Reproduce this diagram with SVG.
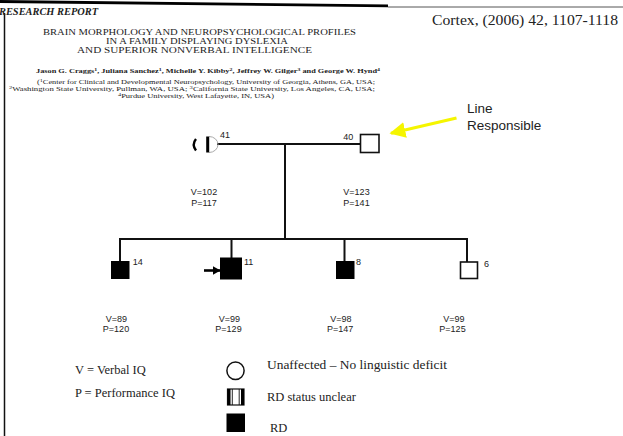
<svg xmlns="http://www.w3.org/2000/svg" width="623" height="436" viewBox="0 0 623 436">
  <style>
    .serif { font-family: "Liberation Serif", "Times New Roman", serif; fill: #222; }
    .sans { font-family: "Liberation Sans", Arial, sans-serif; fill: #222; }
    .title { font-size: 8.6px; }
    .num { font-size: 9px; }
    .iq { font-size: 9px; text-anchor: middle; }
    .legend { font-size: 12.5px; }
    .link { stroke: #111; stroke-width: 2; fill: none; }
    .open { fill: #fff; stroke: #111; stroke-width: 1.6; }
    .filled { fill: #000; stroke: #000; stroke-width: 1; }
    .sup { font-size: 4.5px; }
  </style>
  <defs>
    <marker id="yellowHead" markerWidth="5" markerHeight="5" refX="4.5" refY="2.5" orient="auto" markerUnits="strokeWidth">
      <path d="M0,0 L5,2.5 L0,5 Z" fill="#f5f500"/>
    </marker>
    <marker id="blackHead" markerWidth="3" markerHeight="3.4" refX="2.8" refY="1.7" orient="auto" markerUnits="strokeWidth">
      <path d="M0,0 L3,1.7 L0,3.4 Z" fill="#000"/>
    </marker>
  </defs>

  <rect width="623" height="436" fill="#fff"/>

  <!-- page header -->
  <g id="header">
    <path d="M0,0 L388,4.5 L388,7.3 L0,3 Z" fill="#000"/>
    <line x1="388" y1="7" x2="623" y2="7" stroke="#555" stroke-width="1"/>
    <line x1="4.5" y1="13" x2="4.5" y2="436" stroke="#111" stroke-width="1.5"/>
    <text class="serif" x="-1" y="15" font-size="10" font-weight="bold" font-style="italic" textLength="99" lengthAdjust="spacingAndGlyphs">RESEARCH REPORT</text>
    <text class="serif" x="432" y="25" font-size="14" textLength="186" lengthAdjust="spacingAndGlyphs">Cortex, (2006) 42, 1107-1118</text>
    <text class="serif title" x="43" y="35" textLength="313" lengthAdjust="spacingAndGlyphs">BRAIN MORPHOLOGY AND NEUROPSYCHOLOGICAL PROFILES</text>
    <text class="serif title" x="106" y="44" textLength="182" lengthAdjust="spacingAndGlyphs">IN A FAMILY DISPLAYING DYSLEXIA</text>
    <text class="serif title" x="77" y="53" textLength="235" lengthAdjust="spacingAndGlyphs">AND SUPERIOR NONVERBAL INTELLIGENCE</text>
    <text class="serif" x="36" y="73" font-size="6.4" font-weight="bold" textLength="344" lengthAdjust="spacingAndGlyphs">Jason G. Craggs<tspan class="sup" dy="-2">1</tspan><tspan dy="2">, Juliana Sanchez</tspan><tspan class="sup" dy="-2">1</tspan><tspan dy="2">, Michelle Y. Kibby</tspan><tspan class="sup" dy="-2">2</tspan><tspan dy="2">, Jeffrey W. Gilger</tspan><tspan class="sup" dy="-2">3</tspan><tspan dy="2"> and George W. Hynd</tspan><tspan class="sup" dy="-2">4</tspan></text>
    <text class="serif" x="37" y="84" font-size="6" textLength="338" lengthAdjust="spacingAndGlyphs">(<tspan class="sup" dy="-2">1</tspan><tspan dy="2">Center for Clinical and Developmental Neuropsychology, University of Georgia, Athens, GA, USA;</tspan></text>
    <text class="serif" x="9" y="91" font-size="6" textLength="366" lengthAdjust="spacingAndGlyphs"><tspan class="sup" dy="-2">2</tspan><tspan dy="2">Washington State University, Pullman, WA, USA; </tspan><tspan class="sup" dy="-2">3</tspan><tspan dy="2">California State University, Los Angeles, CA, USA;</tspan></text>
    <text class="serif" x="118" y="98" font-size="6" textLength="156" lengthAdjust="spacingAndGlyphs"><tspan class="sup" dy="-2">4</tspan><tspan dy="2">Purdue University, West Lafayette, IN, USA)</tspan></text>
  </g>

  <!-- pedigree lines -->
  <g id="connectors">
    <line class="link" x1="217" y1="144" x2="360" y2="144"/>
    <line class="link" x1="285" y1="144" x2="285" y2="239"/>
    <line class="link" x1="119" y1="239" x2="468" y2="239"/>
    <line class="link" x1="120" y1="239" x2="120" y2="262"/>
    <line class="link" x1="231.5" y1="239" x2="231.5" y2="258"/>
    <line class="link" x1="344.5" y1="239" x2="344.5" y2="262"/>
    <line class="link" x1="467" y1="239" x2="467" y2="262"/>
    <line x1="456.5" y1="118" x2="391" y2="133.2" stroke="#f5f500" stroke-width="3.2" marker-end="url(#yellowHead)"/>
    <line x1="204" y1="270.5" x2="220" y2="270.5" stroke="#000" stroke-width="2.6" marker-end="url(#blackHead)"/>
  </g>

  <!-- parents -->
  <g id="mother-41">
    <path d="M196,139 Q191.5,144.5 196,150.5" fill="none" stroke="#000" stroke-width="2.4"/>
    <path d="M209,136.5 A9,8 0 0 1 209,152.5" fill="none" stroke="#aaa" stroke-width="1"/>
    <rect x="206.2" y="136.5" width="3" height="16" fill="#000"/>
    <text class="sans num" x="220" y="138">41</text>
    <text class="sans iq" x="204" y="194.5">V=102</text>
    <text class="sans iq" x="204" y="206">P=117</text>
  </g>
  <g id="father-40">
    <rect class="open" x="360.5" y="134.5" width="18.5" height="18"/>
    <text class="sans num" x="343.3" y="140">40</text>
    <text class="sans iq" x="356.5" y="194.5">V=123</text>
    <text class="sans iq" x="356.5" y="206">P=141</text>
  </g>
  <g id="label-line-responsible">
    <text class="sans" x="467" y="113" font-size="13.5">Line</text>
    <text class="sans" x="467" y="130" font-size="13.5">Responsible</text>
  </g>

  <!-- children -->
  <g id="child-14">
    <rect class="filled" x="111.5" y="261.5" width="17.5" height="17"/>
    <text class="sans num" x="132.7" y="265">14</text>
    <text class="sans iq" x="116.5" y="321.7">V=89</text>
    <text class="sans iq" x="116" y="332">P=120</text>
  </g>
  <g id="child-11">
    <rect class="filled" x="220.5" y="258" width="21" height="21"/>
    <text class="sans num" x="244" y="265">11</text>
    <text class="sans iq" x="229.3" y="321.7">V=99</text>
    <text class="sans iq" x="228.5" y="332">P=129</text>
  </g>
  <g id="child-8">
    <rect class="filled" x="336.5" y="261.5" width="17.5" height="17"/>
    <text class="sans num" x="356" y="265">8</text>
    <text class="sans iq" x="340.8" y="321.7">V=98</text>
    <text class="sans iq" x="340.2" y="332">P=147</text>
  </g>
  <g id="child-6">
    <rect class="open" x="460.5" y="262" width="17" height="16.5"/>
    <text class="sans num" x="484" y="267">6</text>
    <text class="sans iq" x="454" y="321.7">V=99</text>
    <text class="sans iq" x="452.5" y="332">P=125</text>
  </g>

  <!-- key -->
  <g id="legend">
    <text class="serif legend" x="75" y="374">V = Verbal IQ</text>
    <text class="serif legend" x="75" y="397">P = Performance IQ</text>
    <ellipse cx="235.5" cy="370.8" rx="8.6" ry="8.8" fill="#fff" stroke="#111" stroke-width="1.5"/>
    <text class="serif legend" x="267" y="369" textLength="180" lengthAdjust="spacingAndGlyphs">Unaffected – No linguistic deficit</text>
    <rect x="227.5" y="389" width="16.5" height="16" fill="#fff" stroke="#111" stroke-width="1.2"/>
    <rect x="227.5" y="389" width="3" height="16" fill="#000"/>
    <rect x="241" y="389" width="3" height="16" fill="#000"/>
    <line x1="232.3" y1="389" x2="232.3" y2="405" stroke="#111" stroke-width="0.9"/>
    <line x1="239.2" y1="389" x2="239.2" y2="405" stroke="#111" stroke-width="0.9"/>
    <text class="serif legend" x="267" y="401">RD status unclear</text>
    <rect x="226.5" y="413.5" width="18.5" height="18.5" fill="#000"/>
    <text class="serif legend" x="270" y="432">RD</text>
  </g>
</svg>
